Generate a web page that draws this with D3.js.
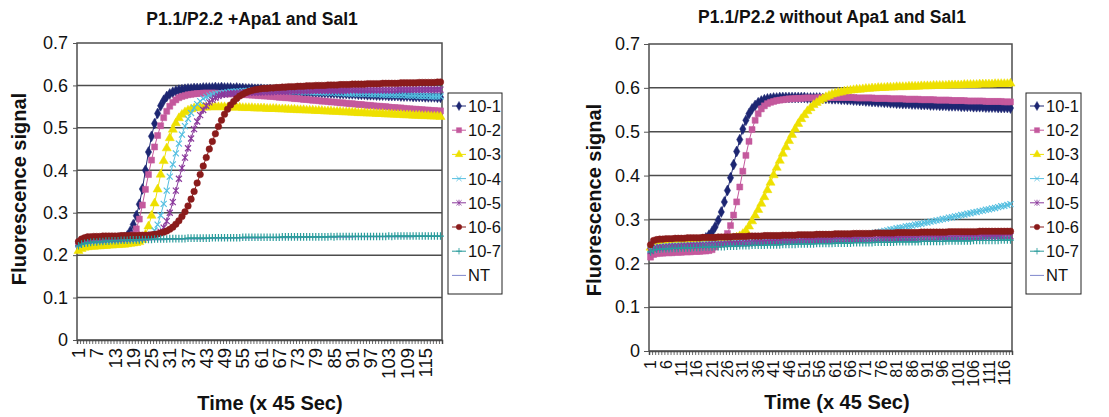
<!DOCTYPE html>
<html>
<head>
<meta charset="utf-8">
<script src="https://cdn.jsdelivr.net/npm/d3@7"></script>
<style>
  body { margin: 0; background: #fff; }
  svg text { font-family: "Liberation Sans", Arial, sans-serif; fill: #111; }
</style>
</head>
<body>
<svg id="chart" width="1109" height="417"></svg>
<script>
// ---- shared bits ----
const seriesNames = ["10-1", "10-2", "10-3", "10-4", "10-5", "10-6", "10-7", "NT"];
const seriesColors = ["#1d2672", "#c4599d", "#eee000", "#55bfe0", "#8b3a9c", "#8a1b1b", "#2b9c9c", "#7f87cc"];
const seriesMarkers = ["diamond", "square", "triangle", "x", "star", "circle", "plus", "none"];
const yTicks = [0, 0.1, 0.2, 0.3, 0.4, 0.5, 0.6, 0.7];
const yTickLabels = ["0", "0.1", "0.2", "0.3", "0.4", "0.5", "0.6", "0.7"];

// ---- left chart: P1.1/P2.2 +Apa1 and Sal1 (120 readings) ----
const leftTime = d3.range(1, 121);
const leftTickLabels = [1, 7, 13, 19, 25, 31, 37, 43, 49, 55, 61, 67, 73, 79, 85, 91, 97, 103, 109, 115];
const left10_1 = [0.228,0.232,0.234,0.235,0.236,0.236,0.237,0.237,0.238,0.238,0.238,0.239,0.239,0.240,0.240,0.241,
  0.245,0.256,0.272,0.293,0.320,0.356,0.400,0.443,0.480,0.510,0.534,0.552,0.565,0.574,0.580,0.584,0.587,0.589,0.590,0.591,0.592,0.592,0.593,0.593,
  0.593,0.594,0.594,0.594,0.594,0.595,0.594,0.595,0.594,0.594,0.594,0.593,0.594,0.593,0.593,0.592,0.592,0.592,0.591,0.591,
  0.591,0.590,0.590,0.590,0.589,0.589,0.588,0.588,0.588,0.587,0.587,0.586,0.586,0.586,0.585,0.585,0.585,0.584,0.584,0.584,
  0.583,0.583,0.583,0.582,0.582,0.582,0.581,0.581,0.581,0.580,0.580,0.580,0.579,0.579,0.579,0.578,0.578,0.578,0.577,0.577,
  0.577,0.577,0.576,0.576,0.576,0.576,0.575,0.575,0.575,0.575,0.574,0.574,0.574,0.574,0.573,0.573,0.573,0.573,0.572,0.572];
const left10_2 = [0.226,0.230,0.232,0.233,0.234,0.234,0.235,0.235,0.235,0.236,0.236,0.236,0.237,0.237,0.237,0.238,0.238,0.239,
  0.248,0.262,0.285,0.318,0.355,0.390,0.424,0.455,0.482,0.505,0.524,0.539,0.551,0.560,0.566,0.571,0.574,0.576,0.578,0.579,0.580,0.581,
  0.581,0.582,0.582,0.582,0.582,0.582,0.581,0.581,0.581,0.580,0.580,0.580,0.579,0.579,0.579,0.578,0.578,0.577,0.577,0.576,
  0.576,0.575,0.575,0.574,0.574,0.573,0.572,0.572,0.571,0.571,0.570,0.569,0.569,0.568,0.567,0.567,0.566,0.565,0.565,0.564,
  0.563,0.563,0.562,0.561,0.561,0.560,0.559,0.559,0.558,0.557,0.557,0.556,0.555,0.555,0.554,0.553,0.553,0.552,0.551,0.551,
  0.550,0.550,0.549,0.548,0.548,0.547,0.547,0.546,0.545,0.545,0.544,0.544,0.543,0.543,0.542,0.542,0.541,0.541,0.540,0.540];
const left10_3 = [0.210,0.215,0.218,0.219,0.220,0.220,0.221,0.221,0.222,0.222,0.223,0.223,0.224,0.224,0.225,0.225,0.226,0.227,0.228,0.229,0.231,
  0.236,0.248,0.268,0.293,0.322,0.355,0.390,0.422,0.452,0.476,0.496,0.511,0.523,0.531,0.537,0.541,0.544,0.546,0.547,
  0.548,0.548,0.548,0.549,0.549,0.549,0.549,0.549,0.549,0.548,0.548,0.548,0.548,0.548,0.547,0.547,0.547,0.547,0.546,0.546,
  0.546,0.546,0.545,0.545,0.545,0.545,0.544,0.544,0.544,0.543,0.543,0.543,0.542,0.542,0.542,0.541,0.541,0.541,0.540,0.540,
  0.540,0.539,0.539,0.539,0.538,0.538,0.538,0.537,0.537,0.537,0.536,0.536,0.535,0.535,0.535,0.534,0.534,0.534,0.533,0.533,
  0.533,0.532,0.532,0.532,0.531,0.531,0.531,0.530,0.530,0.530,0.529,0.529,0.529,0.528,0.528,0.528,0.527,0.527,0.527,0.526];
const left10_4 = [0.225,0.229,0.231,0.232,0.233,0.233,0.234,0.234,0.235,0.235,0.235,0.236,0.236,0.236,0.237,0.237,0.237,0.238,0.238,0.238,0.239,0.240,0.241,
  0.243,0.249,0.258,0.272,0.294,0.321,0.352,0.385,0.414,0.440,0.463,0.484,0.504,0.521,0.535,0.547,0.556,0.563,0.569,0.573,0.576,0.578,
  0.580,0.581,0.582,0.583,0.584,0.585,0.585,0.586,0.586,0.587,0.587,0.587,0.588,0.588,0.588,
  0.588,0.588,0.588,0.588,0.588,0.587,0.587,0.587,0.587,0.586,0.586,0.586,0.586,0.585,0.585,0.585,0.585,0.584,0.584,0.584,
  0.584,0.583,0.583,0.583,0.583,0.582,0.582,0.582,0.581,0.581,0.581,0.581,0.580,0.580,0.580,0.580,0.579,0.579,0.579,0.579,
  0.578,0.578,0.578,0.578,0.577,0.577,0.577,0.577,0.576,0.576,0.576,0.576,0.575,0.575,0.575,0.575,0.574,0.574,0.574,0.574];
const left10_5 = [0.228,0.231,0.233,0.234,0.235,0.235,0.236,0.236,0.236,0.237,0.237,0.237,0.238,0.238,0.238,0.239,0.239,0.239,0.240,0.240,0.240,0.241,0.241,0.242,0.243,0.245,
  0.249,0.255,0.265,0.280,0.300,0.325,0.352,0.380,0.405,0.430,0.452,0.475,0.497,0.515,0.530,0.542,0.552,0.560,0.566,0.571,0.575,0.578,0.579,0.580,
  0.581,0.581,0.582,0.582,0.583,0.583,0.583,0.584,0.584,0.584,0.584,0.585,0.585,0.585,0.585,0.586,0.586,0.586,0.586,0.586,
  0.587,0.587,0.587,0.587,0.587,0.587,0.587,0.588,0.588,0.588,0.588,0.588,0.588,0.588,0.588,0.588,0.588,0.588,0.588,0.589,0.589,0.589,0.589,0.589,0.589,
  0.589,0.589,0.589,0.589,0.589,0.589,0.589,0.589,0.589,0.589,0.590,0.590,0.590,0.590,0.590,0.590,0.590,0.590,0.590,0.590,0.590,0.590,0.590,0.590,0.590];
const left10_6 = [0.232,0.238,0.241,0.243,0.243,0.244,0.244,0.244,0.245,0.245,0.245,0.245,0.245,0.245,0.246,0.246,0.246,0.246,0.246,0.246,0.247,0.247,0.247,0.247,0.248,
  0.249,0.250,0.252,0.254,0.257,0.261,0.266,0.273,0.281,0.291,0.302,0.316,0.332,0.350,0.370,0.390,0.410,0.430,0.450,0.468,0.486,0.503,0.518,0.532,0.544,0.554,0.562,0.569,0.575,0.579,0.583,0.586,0.588,0.590,0.591,
  0.592,0.593,0.593,0.594,0.594,0.595,0.595,0.596,0.596,0.597,0.597,0.597,0.598,0.598,0.598,0.599,0.599,0.599,0.600,0.600,
  0.600,0.600,0.601,0.601,0.601,0.601,0.602,0.602,0.602,0.602,0.603,0.603,0.603,0.603,0.603,0.604,0.604,0.604,0.604,0.604,
  0.605,0.605,0.605,0.605,0.605,0.605,0.606,0.606,0.606,0.606,0.606,0.606,0.607,0.607,0.607,0.607,0.607,0.607,0.608,0.608];
const left10_7 = [0.222,0.226,0.228,0.229,0.230,0.231,0.231,0.232,0.232,0.233,0.233,0.234,0.234,0.234,0.235,0.235,0.235,0.236,0.236,0.236,
  0.236,0.237,0.237,0.237,0.237,0.238,0.238,0.238,0.238,0.238,0.239,0.239,0.239,0.239,0.239,0.239,0.240,0.240,0.240,0.240,
  0.240,0.240,0.240,0.240,0.241,0.241,0.241,0.241,0.241,0.241,0.241,0.241,0.241,0.241,0.242,0.242,0.242,0.242,0.242,0.242,
  0.242,0.242,0.242,0.242,0.242,0.242,0.242,0.243,0.243,0.243,0.243,0.243,0.243,0.243,0.243,0.243,0.243,0.243,0.243,0.243,
  0.243,0.243,0.243,0.244,0.243,0.244,0.244,0.244,0.244,0.244,0.244,0.244,0.244,0.244,0.244,0.244,0.244,0.244,0.244,0.244,
  0.244,0.244,0.245,0.244,0.245,0.245,0.245,0.245,0.245,0.245,0.245,0.245,0.245,0.245,0.245,0.245,0.245,0.245,0.245,0.245];
const leftNT = [0.222,0.225,0.227,0.228,0.229,0.229,0.230,0.230,0.231,0.231,0.232,0.232,0.232,0.233,0.233,0.233,0.234,0.234,0.234,0.234,
  0.235,0.235,0.235,0.235,0.236,0.236,0.236,0.236,0.236,0.237,0.237,0.237,0.237,0.237,0.237,0.238,0.238,0.238,0.238,0.238,
  0.238,0.238,0.239,0.239,0.239,0.239,0.239,0.239,0.239,0.239,0.240,0.240,0.240,0.240,0.240,0.240,0.240,0.240,0.240,0.240,
  0.240,0.241,0.241,0.241,0.241,0.241,0.241,0.241,0.241,0.241,0.241,0.241,0.241,0.241,0.242,0.242,0.242,0.242,0.242,0.242,
  0.242,0.242,0.242,0.242,0.242,0.242,0.242,0.242,0.242,0.242,0.242,0.243,0.243,0.243,0.243,0.243,0.243,0.243,0.243,0.243,
  0.243,0.243,0.243,0.243,0.243,0.243,0.243,0.243,0.243,0.243,0.243,0.244,0.244,0.244,0.244,0.244,0.244,0.244,0.244,0.244];

// ---- right chart: P1.1/P2.2 without Apa1 and Sal1 (118 readings) ----
const rightTime = d3.range(1, 119);
const rightTickLabels = [1, 6, 11, 16, 21, 26, 31, 36, 41, 46, 51, 56, 61, 66, 71, 76, 81, 86, 91, 96, 101, 106, 111, 116];
const right10_1 = [0.232,0.238,0.240,0.241,0.242,0.242,0.243,0.243,0.244,0.244,0.245,0.245,0.246,0.246,0.247,0.248,0.250,
  0.254,0.258,0.264,0.272,0.283,0.298,0.317,0.340,0.366,0.395,0.425,0.455,0.482,0.506,0.526,0.541,0.552,0.560,0.566,0.570,0.573,0.575,0.576,
  0.577,0.577,0.578,0.578,0.578,0.578,0.578,0.578,0.578,0.578,0.578,0.577,0.577,0.577,0.577,0.577,0.576,0.576,0.576,0.575,
  0.575,0.575,0.574,0.574,0.573,0.573,0.572,0.572,0.571,0.571,0.570,0.570,0.569,0.569,0.568,0.568,0.567,0.567,0.566,0.566,
  0.565,0.565,0.564,0.564,0.564,0.563,0.563,0.563,0.562,0.562,0.562,0.561,0.561,0.561,0.560,0.560,0.560,0.559,0.559,0.559,
  0.559,0.558,0.558,0.558,0.558,0.557,0.557,0.557,0.557,0.556,0.556,0.556,0.556,0.555,0.555,0.555,0.555,0.554];
const right10_2 = [0.214,0.220,0.222,0.223,0.223,0.224,0.224,0.224,0.225,0.225,0.225,0.226,0.226,0.226,0.227,0.227,0.227,0.228,0.228,0.229,0.231,
  0.237,0.243,0.249,0.256,0.268,0.286,0.310,0.340,0.374,0.410,0.446,0.478,0.505,0.526,0.541,0.552,0.559,0.564,0.567,0.569,0.571,0.572,0.573,0.574,
  0.575,0.575,0.576,0.576,0.576,0.577,0.577,0.577,0.577,0.577,0.578,0.578,0.578,0.578,0.578,0.578,0.578,0.578,0.578,0.578,
  0.578,0.578,0.577,0.577,0.577,0.577,0.577,0.577,0.576,0.576,0.576,0.576,0.576,0.575,0.575,0.575,0.575,0.575,0.574,0.574,
  0.574,0.574,0.574,0.573,0.573,0.573,0.573,0.573,0.572,0.572,0.572,0.572,0.572,0.571,0.571,0.571,0.571,0.571,0.570,0.570,
  0.570,0.570,0.570,0.570,0.569,0.569,0.569,0.569,0.569,0.569,0.568,0.568,0.568];
const right10_3 = [0.236,0.241,0.243,0.244,0.244,0.245,0.245,0.246,0.246,0.247,0.247,0.248,0.248,0.249,0.249,0.250,0.250,0.251,0.251,0.252,0.252,0.253,0.253,0.254,0.254,0.255,0.256,0.257,
  0.259,0.262,0.267,0.274,0.284,0.296,0.309,0.322,0.336,0.351,0.367,0.384,0.401,0.418,0.434,0.450,0.465,0.479,0.493,0.506,0.518,0.529,0.538,0.547,0.554,0.561,0.566,0.571,0.575,0.579,0.582,0.585,
  0.587,0.589,0.590,0.592,0.593,0.594,0.595,0.596,0.596,0.597,0.598,0.598,0.599,0.599,0.600,0.600,0.600,0.601,0.601,0.601,
  0.602,0.602,0.602,0.602,0.603,0.603,0.603,0.603,0.604,0.604,0.604,0.604,0.605,0.605,0.605,0.605,0.605,0.606,0.606,0.606,
  0.606,0.606,0.607,0.607,0.607,0.607,0.607,0.608,0.608,0.608,0.608,0.608,0.609,0.609,0.609,0.609,0.609,0.610];
const right10_4 = [0.230,0.235,0.237,0.238,0.238,0.239,0.239,0.240,0.240,0.240,0.241,0.241,0.241,0.242,0.242,0.242,0.243,0.243,0.243,0.244,
  0.244,0.244,0.245,0.245,0.245,0.246,0.246,0.246,0.247,0.247,0.247,0.248,0.248,0.248,0.249,0.249,0.249,0.250,0.250,0.250,
  0.251,0.251,0.251,0.252,0.252,0.252,0.253,0.253,0.253,0.254,0.254,0.254,0.255,0.255,0.255,0.256,0.256,0.257,0.257,0.258,
  0.258,0.259,0.259,0.260,0.261,0.261,0.262,0.263,0.264,0.265,0.266,0.267,0.268,0.270,0.271,0.272,0.274,0.275,0.277,0.278,
  0.280,0.281,0.282,0.284,0.285,0.286,0.288,0.289,0.290,0.292,0.293,0.295,0.296,0.298,0.299,0.301,0.302,0.304,0.305,0.307,
  0.308,0.310,0.311,0.313,0.314,0.316,0.317,0.319,0.320,0.322,0.323,0.325,0.326,0.328,0.330,0.331,0.333,0.335];
const right10_5 = [0.228,0.233,0.235,0.236,0.236,0.237,0.237,0.238,0.238,0.238,0.239,0.239,0.239,0.240,0.240,0.240,0.241,0.241,0.241,0.242,
  0.242,0.242,0.243,0.243,0.243,0.244,0.244,0.244,0.245,0.245,0.245,0.246,0.246,0.246,0.247,0.247,0.247,0.247,0.248,0.248,
  0.248,0.248,0.249,0.249,0.249,0.249,0.250,0.250,0.250,0.250,0.251,0.251,0.251,0.251,0.252,0.252,0.252,0.252,0.252,0.253,
  0.253,0.253,0.253,0.253,0.254,0.254,0.254,0.254,0.254,0.255,0.255,0.255,0.255,0.255,0.255,0.256,0.256,0.256,0.256,0.256,
  0.256,0.257,0.257,0.257,0.257,0.257,0.257,0.258,0.258,0.258,0.258,0.258,0.258,0.258,0.259,0.259,0.259,0.259,0.259,0.259,
  0.259,0.260,0.260,0.260,0.260,0.260,0.260,0.260,0.261,0.261,0.261,0.261,0.261,0.261,0.261,0.262,0.262,0.262];
const right10_6 = [0.242,0.252,0.254,0.255,0.255,0.256,0.256,0.256,0.257,0.257,0.257,0.257,0.258,0.258,0.258,0.258,0.258,0.259,0.259,0.259,
  0.259,0.259,0.260,0.260,0.260,0.260,0.260,0.261,0.261,0.261,0.261,0.261,0.262,0.262,0.262,0.262,0.262,0.263,0.263,0.263,
  0.263,0.263,0.263,0.264,0.264,0.264,0.264,0.264,0.265,0.265,0.265,0.265,0.265,0.265,0.266,0.266,0.266,0.266,0.266,0.266,
  0.267,0.267,0.267,0.267,0.267,0.267,0.268,0.268,0.268,0.268,0.268,0.268,0.268,0.269,0.269,0.269,0.269,0.269,0.269,0.269,
  0.270,0.270,0.270,0.270,0.270,0.270,0.270,0.270,0.271,0.271,0.271,0.271,0.271,0.271,0.271,0.271,0.271,0.272,0.272,0.272,
  0.272,0.272,0.272,0.272,0.272,0.272,0.272,0.273,0.273,0.273,0.273,0.273,0.273,0.273,0.273,0.273,0.273,0.273];
const right10_7 = [0.226,0.230,0.232,0.232,0.233,0.233,0.233,0.234,0.234,0.234,0.235,0.235,0.235,0.235,0.236,0.236,0.236,0.237,0.237,0.237,
  0.237,0.238,0.238,0.238,0.238,0.239,0.239,0.239,0.239,0.240,0.240,0.240,0.240,0.241,0.241,0.241,0.241,0.241,0.242,0.242,
  0.242,0.242,0.242,0.243,0.243,0.243,0.243,0.243,0.244,0.244,0.244,0.244,0.244,0.244,0.245,0.245,0.245,0.245,0.245,0.245,
  0.246,0.246,0.246,0.246,0.246,0.246,0.247,0.247,0.247,0.247,0.247,0.247,0.247,0.248,0.248,0.248,0.248,0.248,0.248,0.248,
  0.249,0.249,0.249,0.249,0.249,0.249,0.249,0.249,0.250,0.250,0.250,0.250,0.250,0.250,0.250,0.250,0.251,0.251,0.251,0.251,
  0.251,0.251,0.251,0.251,0.251,0.252,0.252,0.252,0.252,0.252,0.252,0.252,0.252,0.252,0.253,0.253,0.253,0.253];
const rightNT = [0.229,0.233,0.234,0.235,0.235,0.236,0.236,0.236,0.237,0.237,0.237,0.238,0.238,0.238,0.238,0.239,0.239,0.239,0.240,0.240,
  0.240,0.240,0.241,0.241,0.241,0.241,0.242,0.242,0.242,0.242,0.243,0.243,0.243,0.243,0.244,0.244,0.244,0.244,0.245,0.245,
  0.245,0.245,0.245,0.246,0.246,0.246,0.246,0.246,0.247,0.247,0.247,0.247,0.247,0.248,0.248,0.248,0.248,0.248,0.248,0.249,
  0.249,0.249,0.249,0.249,0.249,0.250,0.250,0.250,0.250,0.250,0.250,0.251,0.251,0.251,0.251,0.251,0.251,0.251,0.252,0.252,
  0.252,0.252,0.252,0.252,0.252,0.252,0.253,0.253,0.253,0.253,0.253,0.253,0.253,0.253,0.254,0.254,0.254,0.254,0.254,0.254,
  0.254,0.254,0.255,0.255,0.255,0.255,0.255,0.255,0.255,0.255,0.256,0.256,0.256,0.256,0.256,0.256,0.256,0.256];

const svg = d3.select("#chart");

// marker shapes, Excel style
function markerPath(type) {
  switch (type) {
    case "diamond": return d3.symbol(d3.symbolDiamond, 34)();
    case "square": return d3.symbol(d3.symbolSquare, 36)();
    case "triangle": return d3.symbol(d3.symbolTriangle, 36)();
    case "circle": return d3.symbol(d3.symbolCircle, 34)();
    case "x": return "M-3,-3L3,3M-3,3L3,-3";
    case "star": return "M-3,-3L3,3M-3,3L3,-3M0,-3.6V3.6";
    case "plus": return "M-3.4,0H3.4M0,-3.8V3.8";
    default: return null;
  }
}
const filledMarkers = ["diamond", "square", "triangle", "circle"];

function drawChart(c) {
  const g = svg.append("g");
  const x = d3.scaleLinear().domain([0.5, c.time.length + 0.5]).range([c.x0, c.x1]);
  const y = d3.scaleLinear().domain([0, 0.7]).range([c.y0, c.y1]);

  // gridlines
  g.append("g").selectAll("line").data(yTicks.slice(1, -1)).join("line")
    .attr("x1", c.x0).attr("x2", c.x1)
    .attr("y1", d => y(d)).attr("y2", d => y(d))
    .attr("stroke", "#4d4d4d").attr("stroke-width", 1.5);

  // plot border
  g.append("rect")
    .attr("x", c.x0).attr("y", c.y1)
    .attr("width", c.x1 - c.x0).attr("height", c.y0 - c.y1)
    .attr("fill", "none").attr("stroke", "#4d4d4d").attr("stroke-width", 1.5);

  // y axis
  const yAxis = g.append("g")
    .attr("transform", `translate(${c.x0},0)`)
    .call(d3.axisLeft(y).tickValues(yTicks).tickFormat((d, i) => yTickLabels[i]).tickSize(c.yTickSize).tickPadding(c.yTickPad));
  yAxis.select(".domain").remove();
  yAxis.selectAll("line").attr("stroke", "#555");
  yAxis.selectAll("text").style("font-size", "18px").attr("fill", "#111");

  // x axis: a small tick between every reading
  const xAxis = g.append("g")
    .attr("transform", `translate(0,${c.y0})`)
    .call(d3.axisBottom(x).tickValues(c.time.map(t => t - 0.5).concat([c.time.length + 0.5])).tickSize(4).tickFormat(""));
  xAxis.select(".domain").attr("stroke", "#4d4d4d").attr("stroke-width", 1.5);
  xAxis.selectAll("line").attr("stroke", "#444").attr("stroke-width", 0.8);

  // x tick labels, rotated
  g.append("g").selectAll("text").data(c.tickLabels).join("text")
    .attr("transform", d => `translate(${x(d)},${c.y0 + c.labelGap}) rotate(-90)`)
    .attr("text-anchor", "end")
    .attr("dy", "0.35em")
    .style("font-size", c.labelFont + "px")
    .text(d => d);

  // series: NT underneath, then 10-1 .. 10-7
  const order = [7, 0, 1, 2, 3, 4, 5, 6];
  const line = d3.line().x((d, i) => x(c.time[i])).y(d => y(d));
  order.forEach(k => {
    const vals = c.series[k];
    const sg = g.append("g");
    sg.append("path").datum(vals)
      .attr("d", line)
      .attr("fill", "none")
      .attr("stroke", seriesColors[k])
      .attr("stroke-width", 1);
    const p = markerPath(seriesMarkers[k]);
    if (!p) return;
    const filled = filledMarkers.includes(seriesMarkers[k]);
    sg.selectAll("path.mk").data(vals).join("path")
      .attr("class", "mk")
      .attr("transform", (d, i) => `translate(${x(c.time[i])},${y(d)})`)
      .attr("d", p)
      .attr("fill", filled ? seriesColors[k] : "none")
      .attr("stroke", seriesColors[k])
      .attr("stroke-width", filled ? 0.5 : 1.2);
  });

  // titles
  svg.append("text")
    .attr("x", c.titleX).attr("y", c.titleY)
    .attr("text-anchor", "middle")
    .style("font-size", "17.5px").style("font-weight", "bold")
    .text(c.title);
  svg.append("text")
    .attr("x", c.xTitleX).attr("y", c.xTitleY)
    .attr("text-anchor", "middle")
    .style("font-size", "20px").style("font-weight", "bold")
    .text("Time (x 45 Sec)");
  svg.append("text")
    .attr("transform", `translate(${c.yTitleX},${c.yTitleY}) rotate(-90)`)
    .attr("text-anchor", "middle")
    .style("font-size", "20px").style("font-weight", "bold")
    .text("Fluorescence signal");

  // legend
  const lg = svg.append("g").attr("transform", `translate(${c.legendX},${c.legendY})`);
  lg.append("rect")
    .attr("width", c.legendW).attr("height", 201)
    .attr("fill", "#fff").attr("stroke", "#222").attr("stroke-width", 1);
  seriesNames.forEach((name, k) => {
    const ey = 13 + k * 24.2;
    lg.append("line")
      .attr("x1", 4).attr("x2", 18).attr("y1", ey).attr("y2", ey)
      .attr("stroke", seriesColors[k]).attr("stroke-width", 1);
    const p = markerPath(seriesMarkers[k]);
    if (p) {
      const filled = filledMarkers.includes(seriesMarkers[k]);
      lg.append("path")
        .attr("transform", `translate(11,${ey}) scale(0.85)`)
        .attr("d", p)
        .attr("fill", filled ? seriesColors[k] : "none")
        .attr("stroke", seriesColors[k])
        .attr("stroke-width", filled ? 0.5 : 1);
    }
    lg.append("text")
      .attr("x", 20).attr("y", ey).attr("dy", "0.36em")
      .style("font-size", "16.5px")
      .text(name);
  });
}

drawChart({
  title: "P1.1/P2.2 +Apa1 and Sal1",
  time: leftTime,
  tickLabels: leftTickLabels,
  series: [left10_1, left10_2, left10_3, left10_4, left10_5, left10_6, left10_7, leftNT],
  x0: 77, x1: 442, y0: 340, y1: 43,
  yTickSize: 4, yTickPad: 5,
  labelGap: 8, labelFont: 18.5,
  titleX: 252, titleY: 25,
  xTitleX: 270, xTitleY: 410,
  yTitleX: 26, yTitleY: 189,
  legendX: 448, legendY: 93, legendW: 54
});

drawChart({
  title: "P1.1/P2.2 without Apa1 and Sal1",
  time: rightTime,
  tickLabels: rightTickLabels,
  series: [right10_1, right10_2, right10_3, right10_4, right10_5, right10_6, right10_7, rightNT],
  x0: 649, x1: 1012, y0: 351, y1: 44,
  yTickSize: 5, yTickPad: 4,
  labelGap: 9, labelFont: 16,
  titleX: 832, titleY: 23,
  xTitleX: 837, xTitleY: 409,
  yTitleX: 601, yTitleY: 200,
  legendX: 1026, legendY: 93, legendW: 55
});
</script>
</body>
</html>
